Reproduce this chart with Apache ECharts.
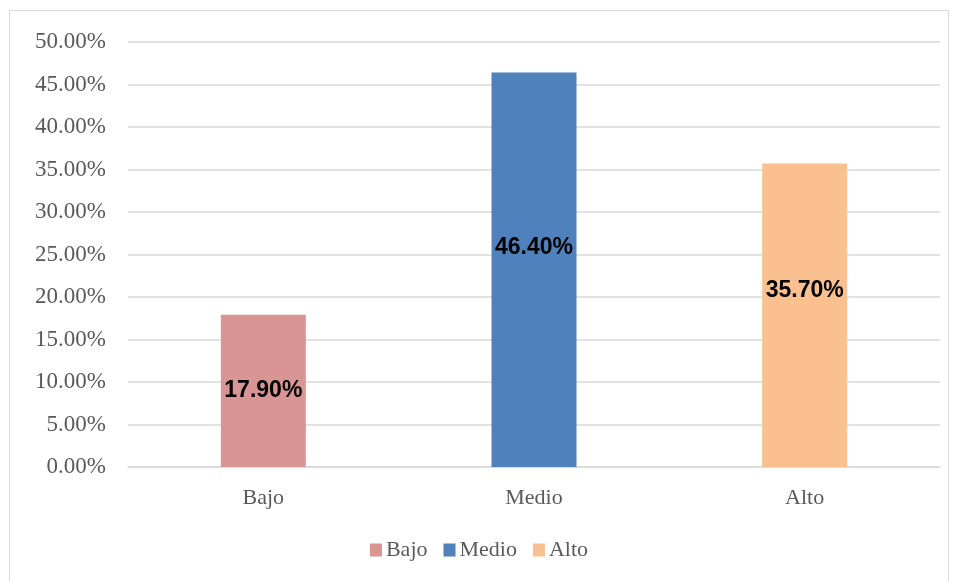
<!DOCTYPE html>
<html><head><meta charset="utf-8">
<script src="https://cdn.jsdelivr.net/npm/echarts@6/dist/echarts.min.js"></script>
<style>html,body{margin:0;padding:0;background:#fff}#frame{position:absolute;left:9px;top:10px;width:940px;height:600px;border:1.5px solid #d9d9d9;box-sizing:border-box}#c{position:absolute;left:0;top:0;width:958px;height:581px}</style>
</head><body><div id="frame"></div><div id="c"></div>
<script>
const categories = ['Bajo', 'Medio', 'Alto'];
const values = [17.9, 46.4, 35.7];
const colors = ['#D99594', '#4F81BD', '#FAC090'];
const labelOffsets = [[0, 0], [0, -22], [0, -25]];
const yTicks = { min: 0, max: 50, interval: 5 };

const chart = echarts.init(document.getElementById('c'));
const serif = 'Liberation Serif';
const series = categories.map((name, i) => ({
  name,
  type: 'bar',
  stack: 'all',
  barWidth: 85,
  data: categories.map((c, j) => j === i ? values[i] : null),
  itemStyle: { color: colors[i] },
  label: {
    show: true, position: 'inside', offset: labelOffsets[i],
    formatter: p => p.value.toFixed(2) + '%',
    fontFamily: 'Liberation Sans', fontWeight: 'bold', fontSize: 23, color: '#000'
  }
}));
chart.setOption({
  animation: false,
  grid: { left: 128, right: 18, top: 42, bottom: 114 },
  legend: {
    data: categories, top: 534, left: 'center',
    itemWidth: 12, itemHeight: 13, itemGap: 16,
    icon: 'rect',
    textStyle: { fontFamily: serif, fontSize: 22, color: '#595959', padding: [0, 0, 0, -1] }
  },
  xAxis: {
    type: 'category', data: categories,
    axisLine: { lineStyle: { color: '#d9d9d9', width: 1.5 } },
    axisTick: { show: false },
    axisLabel: { fontFamily: serif, fontSize: 22, color: '#595959', margin: 20 }
  },
  yAxis: {
    type: 'value', min: yTicks.min, max: yTicks.max, interval: yTicks.interval,
    axisLine: { show: false }, axisTick: { show: false },
    splitLine: { lineStyle: { color: '#d9d9d9', width: 1.5 } },
    axisLabel: { fontFamily: serif, fontSize: 23, color: '#595959', margin: 22,
      formatter: v => v.toFixed(2) + '%' }
  },
  series
});
</script></body></html>
